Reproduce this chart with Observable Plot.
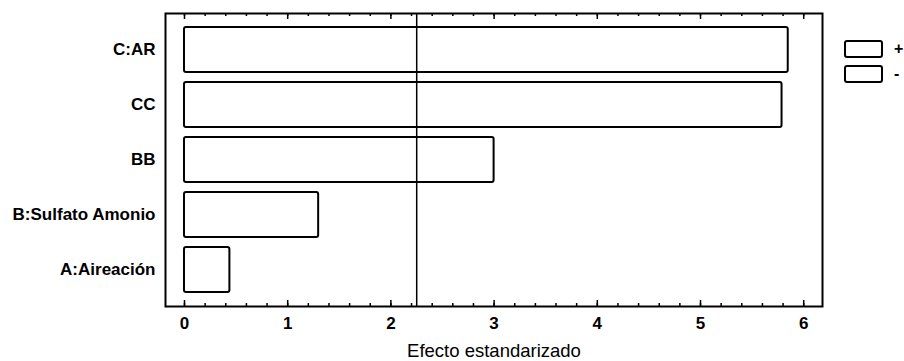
<!DOCTYPE html>
<html>
<head>
<meta charset="utf-8">
<script src="https://cdn.jsdelivr.net/npm/d3@7"></script>
<script src="https://cdn.jsdelivr.net/npm/@observablehq/plot@0.6"></script>
<style>
  html, body { margin: 0; padding: 0; background: #fff; }
  #wrap { position: relative; width: 904px; height: 361px; overflow: hidden; font-family: "Liberation Sans", Arial, sans-serif; }
  #legend { position: absolute; left: 844px; top: 36px; }
  .item { display: flex; align-items: center; height: 25px; }
  .item span { font-weight: bold; font-size: 16px; margin-left: 10px; line-height: 1; }
</style>
</head>
<body>
<div id="wrap"></div>
<script>
const factors = ["C:AR", "CC", "BB", "B:Sulfato Amonio", "A:Aireación"];
const effects = [5.85, 5.79, 3.0, 1.30, 0.44];
const critical = 2.25;
const majorTicks = [0, 1, 2, 3, 4, 5, 6];
const minorTicks = d3.range(0, 6.01, 0.2).map(v => +v.toFixed(1));
const legendLabels = ["+", "-"];
const xLabel = "Efecto estandarizado";

const data = factors.map((f, i) => ({factor: f, effect: effects[i]}));
const font = "Liberation Sans, Arial, sans-serif";
const plotH = 361 - 13 - 55;

const chart = Plot.plot({
  width: 904,
  height: 361,
  marginLeft: 165,
  marginRight: 82,
  marginTop: 13,
  marginBottom: 55,
  style: {fontFamily: font, background: "white", color: "black"},
  x: {domain: [-0.184, 6.182]},
  y: {domain: factors, range: [15.75, 302.2], padding: 0.1855},
  marks: [
    Plot.barX(data, {x1: 0, x2: "effect", y: "factor", fill: "white", stroke: "black", strokeWidth: 2, rx: 2}),
    Plot.ruleX([critical], {stroke: "black", strokeWidth: 1.5}),
    Plot.ruleX(minorTicks, {insetTop: plotH - 3, stroke: "black", strokeWidth: 1.5}),
    Plot.ruleX(majorTicks, {insetTop: plotH - 6, stroke: "black", strokeWidth: 1.5}),
    Plot.ruleX(minorTicks, {insetBottom: plotH - 3, stroke: "black", strokeWidth: 1.5}),
    Plot.ruleX(majorTicks, {insetBottom: plotH - 6, stroke: "black", strokeWidth: 1.5}),
    Plot.axisX(majorTicks, {anchor: "bottom", tickSize: 0, tickPadding: 10, fontSize: 17, fontWeight: "bold", label: null}),
    Plot.axisX(majorTicks, {anchor: "bottom", tickSize: 0, text: null, fontWeight: "normal",
      label: xLabel, labelAnchor: "center", labelArrow: "none", labelOffset: 50}),
    Plot.axisY({anchor: "left", tickSize: 0, tickPadding: 10, fontSize: 17, fontWeight: "bold", label: null}),
    Plot.frame({stroke: "black", strokeWidth: 2})
  ]
});
chart.querySelectorAll("g[aria-label='x-axis label']").forEach(g => {
  g.setAttribute("font-size", "18.5");
  g.querySelectorAll("text").forEach(t => t.setAttribute("font-size", "18.5"));
});
const wrap = document.getElementById("wrap");
wrap.appendChild(chart);

const legend = document.createElement("div");
legend.id = "legend";
legendLabels.forEach(l => {
  const item = document.createElement("div");
  item.className = "item";
  item.innerHTML = `<svg width="40" height="18"><rect x="1" y="1" width="37" height="16" rx="2" fill="white" stroke="black" stroke-width="2"/></svg><span>${l}</span>`;
  legend.appendChild(item);
});
wrap.appendChild(legend);
</script>
</body>
</html>
